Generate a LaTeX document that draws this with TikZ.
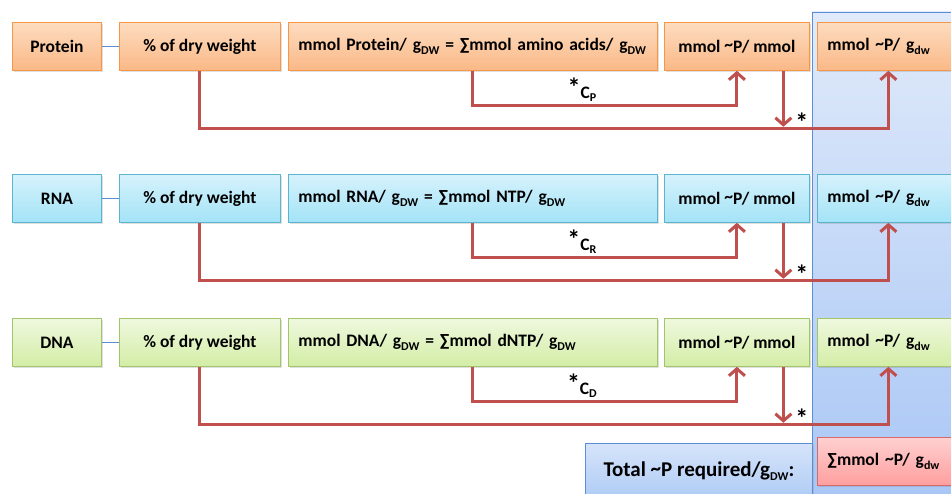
\documentclass[tikz,border=0pt]{standalone}
\usepackage{fontspec}
\setmainfont{Carlito}
\usetikzlibrary{arrows.meta,shadows}

\definecolor{arrowred}{HTML}{C0504D}
\definecolor{linkblue}{HTML}{5B8FD0}
\definecolor{oline}{HTML}{F79646}
\definecolor{otop}{HTML}{FDDCC0}
\definecolor{obot}{HTML}{FAB886}
\definecolor{cline}{HTML}{5BB5CF}
\definecolor{ctop}{HTML}{D6F2FC}
\definecolor{cbot}{HTML}{A3E3F7}
\definecolor{gline}{HTML}{A2C46A}
\definecolor{gtop}{HTML}{EFF8DE}
\definecolor{gbot}{HTML}{D3EDA6}
\definecolor{rline}{HTML}{D46A6A}
\definecolor{rtop}{HTML}{FFD0D0}
\definecolor{rbot}{HTML}{FF9E9E}
\definecolor{pline}{HTML}{5B8FD5}
\definecolor{ptop}{HTML}{E0EAFA}
\definecolor{pbot}{HTML}{A8C6F5}
\definecolor{ttop}{HTML}{D6E4FA}
\definecolor{tbot}{HTML}{AECBF5}

\newcommand\dsub[1]{\raisebox{-0.4ex}{\fontsize{12}{12}\selectfont #1}}
\newcommand\tld{\raisebox{0.15ex}{\textasciitilde}}
\newcommand\astr{{\fontsize{26}{26}\selectfont *}}

\tikzset{
  box/.style={draw, line width=0.8pt, anchor=north west, inner sep=0pt,
    minimum height=48pt, font=\bfseries\fontsize{17.5}{20}\selectfont,
    drop shadow={shadow xshift=1.2pt, shadow yshift=-1.8pt, opacity=0.25}},
  obox/.style={box, draw=oline, top color=otop, bottom color=obot},
  cbox/.style={box, draw=cline, top color=ctop, bottom color=cbot},
  gbox/.style={box, draw=gline, top color=gtop, bottom color=gbot},
  leftbox/.style={align=left, inner xsep=10pt, text width=#1},
  link/.style={draw=linkblue, line width=1pt},
  conn/.style={draw=arrowred, line width=3pt},
  arr/.style={conn, -{Straight Barb[length=7pt,width=16pt]}},
  lbl/.style={font=\bfseries\fontsize{17.5}{20}\selectfont, inner sep=0pt},
}

\begin{document}
\begin{tikzpicture}[x=1pt,y=-1pt]
\clip (0,0) rectangle (951,494);

% summation column behind the last boxes
\path[draw=pline, line width=0.8pt, top color=ptop, bottom color=pbot]
  (812,12) rectangle (975,505);

% ---- Protein row ----
\node[obox, minimum width=89pt]  (n1)   at (12,22)  {Protein};
\node[obox, minimum width=161pt] (pct1) at (119,22) {\% of dry weight};
\node[obox, leftbox=349pt]       (eq1)  at (288,22) {\mbox{mmol Protein/ g\dsub{DW} = \char"2211mmol amino acids/ g\dsub{DW}}};
\node[obox, minimum width=145pt] (per1) at (664,22) {mmol \tld P/ mmol};
\node[obox, leftbox=122pt]       (tot1) at (817,22) {\mbox{mmol \tld P/ g\dsub{dw}}};

% ---- RNA row ----
\node[cbox, minimum width=89pt]  (n2)   at (12,174)  {RNA};
\node[cbox, minimum width=161pt] (pct2) at (119,174) {\% of dry weight};
\node[cbox, leftbox=349pt]       (eq2)  at (288,174) {\mbox{mmol RNA/ g\dsub{DW} = \char"2211mmol NTP/ g\dsub{DW}}};
\node[cbox, minimum width=145pt] (per2) at (664,174) {mmol \tld P/ mmol};
\node[cbox, leftbox=122pt]       (tot2) at (817,174) {\mbox{mmol \tld P/ g\dsub{dw}}};

% ---- DNA row ----
\node[gbox, minimum width=89pt]  (n3)   at (12,318)  {DNA};
\node[gbox, minimum width=161pt] (pct3) at (119,318) {\% of dry weight};
\node[gbox, leftbox=349pt]       (eq3)  at (288,318) {\mbox{mmol DNA/ g\dsub{DW} = \char"2211mmol dNTP/ g\dsub{DW}}};
\node[gbox, minimum width=145pt] (per3) at (664,318) {mmol \tld P/ mmol};
\node[gbox, leftbox=122pt]       (tot3) at (817,318) {\mbox{mmol \tld P/ g\dsub{dw}}};

% connectors
\foreach \r/\c in {1/P, 2/R, 3/D} {
  \draw[link] (n\r.east) -- (pct\r.west);
  \draw[arr] (pct\r.south) -- ++(0,58) -| (tot\r.south);
  \draw[arr] (eq\r.south) -- ++(0,35) -| (per\r.south);
  \draw[arr] ([xshift=46.5pt]per\r.south) -- ++(0,56);
  \node[lbl] (k\r) at ([xshift=109pt,yshift=-19pt]eq\r.south) {\raisebox{-0.4ex}{\astr}\raisebox{-0.6ex}{C\dsub{\c}}};
  \node[lbl] (s\r) at ([xshift=65pt,yshift=-51pt]per\r.south) {\astr};
}

% totals
\node[box, draw=pline, top color=ttop, bottom color=tbot, minimum width=227pt,
      minimum height=56pt, font=\bfseries\fontsize{21}{24}\selectfont]
  (total) at (585,443) {Total \tld P required/g\dsub{DW}:};
\node[box, draw=rline, top color=rtop, bottom color=rbot, leftbox=122pt]
  (sum) at (817,437) {\mbox{\char"2211mmol \tld P/ g\dsub{dw}}};

\end{tikzpicture}
\end{document}
